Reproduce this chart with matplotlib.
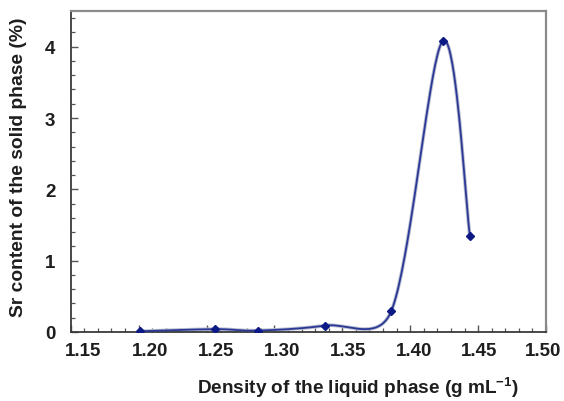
import numpy as np
import matplotlib
matplotlib.use("Agg")
import matplotlib.pyplot as plt
from matplotlib.ticker import MultipleLocator
from matplotlib.transforms import ScaledTranslation

plt.rcParams['font.family'] = ['Liberation Sans', 'DejaVu Sans']
plt.rcParams['font.weight'] = 'bold'
plt.rcParams['mathtext.fontset'] = 'custom'
plt.rcParams['mathtext.rm'] = 'Liberation Sans:bold'
plt.rcParams['mathtext.default'] = 'rm'

# density of the liquid phase (g/mL) vs Sr content of the solid phase (%)
density = [1.201, 1.256, 1.288, 1.337, 1.386, 1.424, 1.444]
sr_content = [0.01, 0.04, 0.02, 0.09, 0.29, 4.08, 1.34]

xlim = (1.15, 1.50)
ylim = (0.0, 4.5)
xticks = [1.15, 1.20, 1.25, 1.30, 1.35, 1.40, 1.45, 1.50]
yticks = [0, 1, 2, 3, 4]

W, H = 564, 402
ax_l, ax_r, ax_b, ax_t = 70.7, 546.0, 333.0, 12.0


def excel_smooth(xs, ys, n=40):
    # excel-like bezier smoothing, done in pixel units
    sx = (ax_r - ax_l) / (xlim[1] - xlim[0])
    sy = (ax_b - ax_t) / (ylim[1] - ylim[0])
    P = np.column_stack([(np.array(xs) - xlim[0]) * sx, np.array(ys) * sy])
    k = len(P)
    out = []
    for i in range(k - 1):
        p0 = P[i - 1] if i > 0 else P[i]
        p1, p2 = P[i], P[i + 1]
        p3 = P[i + 2] if i + 2 < k else P[i + 1]
        d12 = np.hypot(*(p2 - p1))
        d02 = np.hypot(*(p2 - p0))
        d13 = np.hypot(*(p3 - p1))
        f0 = 1 / 6 if d02 / 6 < d12 / 2 or d02 == 0 else d12 / 2 / d02
        f1 = 1 / 6 if d13 / 6 < d12 / 2 or d13 == 0 else d12 / 2 / d13
        b1 = p1 + (p2 - p0) * f0
        b2 = p2 - (p3 - p1) * f1
        t = np.linspace(0, 1, n)[:, None]
        seg = (1 - t) ** 3 * p1 + 3 * (1 - t) ** 2 * t * b1 + 3 * (1 - t) * t ** 2 * b2 + t ** 3 * p2
        out.append(seg if i == 0 else seg[1:])
    c = np.vstack(out)
    return c[:, 0] / sx + xlim[0], c[:, 1] / sy


fig = plt.figure(figsize=(W / 100, H / 100), dpi=100)
ax = fig.add_axes([ax_l / W, 1 - ax_b / H, (ax_r - ax_l) / W, (ax_b - ax_t) / H])

cx, cy = excel_smooth(density, sr_content)
ax.plot(cx, cy, color='#b8bccf', lw=2.6, zorder=2)
ax.plot(cx, cy, color='#2b3896', lw=1.3, zorder=3)
ax.plot(density, sr_content, ls='none', marker='D', ms=4.5, color='#0d1a85', zorder=4)

ax.set_xlim(*xlim)
ax.set_ylim(*ylim)
ax.set_xticks(xticks)
ax.set_xticklabels([f"{v:.2f}" for v in xticks])
ax.set_yticks(yticks)
ax.xaxis.set_minor_locator(MultipleLocator(0.01))
ax.yaxis.set_minor_locator(MultipleLocator(0.2))

ax.tick_params(which='both', direction='in', colors='#555555', labelcolor='#1e1e1e', labelsize=13.5)
ax.tick_params(which='major', length=5, width=1)
ax.tick_params(which='minor', length=3, width=0.9)
ax.tick_params(axis='x', pad=7.5)
ax.tick_params(axis='y', pad=11)

# x tick labels drift slightly right in the original (last one kept inside the figure)
shifts = [12, 11, 10, 8, 6, 4, 1, -3]
for lab, px in zip(ax.get_xticklabels(), shifts):
    lab.set_transform(lab.get_transform() + ScaledTranslation(px / 100, 0, fig.dpi_scale_trans))

for s in ['left', 'bottom']:
    ax.spines[s].set_color('#3a3a3a')
    ax.spines[s].set_linewidth(1.3)
for s in ['top', 'right']:
    ax.spines[s].set_color('#8a8a8a')
    ax.spines[s].set_linewidth(1.6)

fig.text(358 / W, 1 - 388 / H, r"Density of the liquid phase (g mL$^{-1}$)",
         ha='center', va='center', fontsize=13.7, color='#1e1e1e')
fig.text(19 / W, 1 - 167 / H, "Sr content of the solid phase (%)",
         ha='center', va='center', rotation=90, fontsize=13.9, color='#1e1e1e')

fig.savefig("out.png", dpi=100)
